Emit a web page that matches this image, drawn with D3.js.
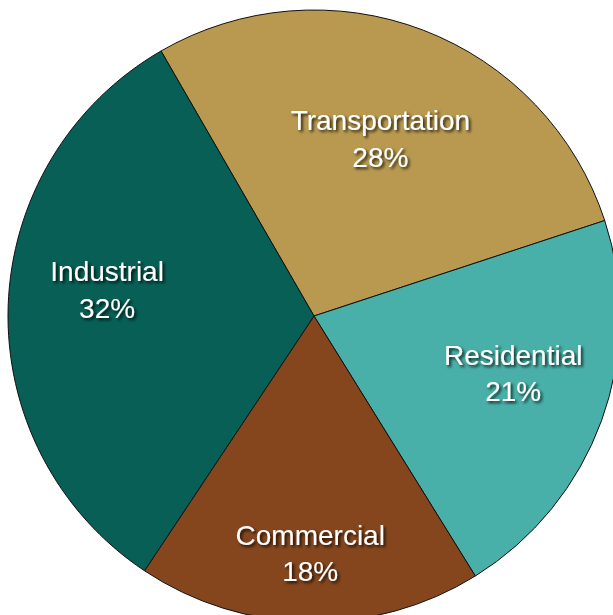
<!DOCTYPE html>
<html><head><meta charset="utf-8">
<script src="https://cdn.jsdelivr.net/npm/d3@7"></script>
<style>body{margin:0;background:#fff;}svg{display:block;}</style>
</head><body>
<svg id="chart" width="613" height="615"></svg>
<script>
// sector data
const categories = ["Transportation", "Residential", "Commercial", "Industrial"];
const shares = [28, 21, 18, 32];
const colors = ["#B8994F", "#48B0A8", "#85461E", "#075F55"];
// label placement: distance from centre and vertical nudge
const labelRadius = [186, 212, 238, 207];
const labelShiftY = [-5, -17, -2, -21];

const svg = d3.select("#chart");
const cx = 314, cy = 316, R = 306;

const defs = svg.append("defs");
const f = defs.append("filter").attr("id", "ts").attr("x", "-20%").attr("y", "-20%").attr("width", "140%").attr("height", "140%");
f.append("feDropShadow").attr("dx", 2).attr("dy", 2).attr("stdDeviation", 1.5).attr("flood-color", "#000").attr("flood-opacity", 0.8);

const pie = d3.pie().sort(null).value(d => d.v)
  .startAngle(-30 * Math.PI / 180).endAngle(330 * Math.PI / 180);
const data = pie(categories.map((c, i) => ({c, v: shares[i], col: colors[i], lr: labelRadius[i], dy: labelShiftY[i]})));
const arc = d3.arc().innerRadius(0).outerRadius(R);

const g = svg.append("g").attr("transform", `translate(${cx},${cy})`);
g.selectAll("path").data(data).join("path")
  .attr("d", arc).attr("fill", d => d.data.col)
  .attr("stroke", "#111").attr("stroke-width", 1);

const lab = g.selectAll("text").data(data).join("text")
  .attr("transform", d => {
    const [x, y] = d3.arc().innerRadius(d.data.lr).outerRadius(d.data.lr).centroid(d);
    return `translate(${x},${y + d.data.dy})`;
  })
  .attr("text-anchor", "middle")
  .attr("fill", "#fff").attr("filter", "url(#ts)")
  .style("font-family", "Liberation Sans, Arial, sans-serif").style("font-size", "28px");
lab.append("tspan").attr("x", 0).attr("dy", "-0.25em").text(d => d.data.c);
lab.append("tspan").attr("x", 0).attr("dy", "1.3em").text(d => d.data.v + "%");
</script>
</body></html>
